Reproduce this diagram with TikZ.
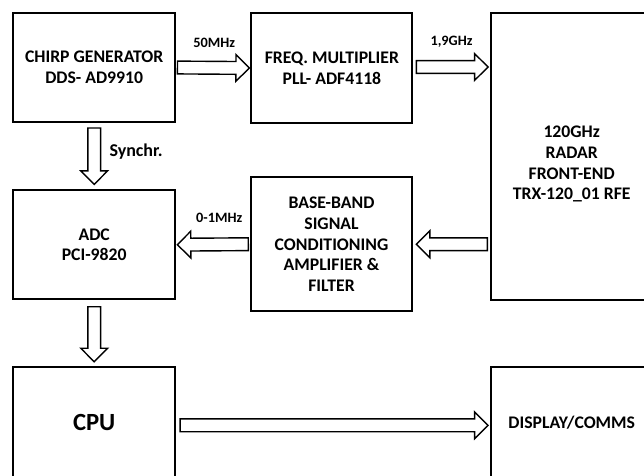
\documentclass[tikz,border=0pt]{standalone}
\usepackage{fontspec}
\setmainfont{Carlito}
\usetikzlibrary{calc}
\newcommand{\sw}{6.4pt}
\newcommand{\hw}{13.4pt}
\newcommand{\hl}{13.5pt}
% hollow block arrow from named coordinate #2 to named coordinate #3
\newcommand{\blockarr}[3][]{%
  \coordinate (ba-m) at ($(#3)!\hl!(#2)$);
  \draw[blockarrow,#1] ($(#2)!\sw!90:(#3)$) -- ($(ba-m)!\sw!90:(#3)$)
    -- ($(ba-m)!\hw!90:(#3)$) -- (#3) -- ($(ba-m)!\hw!-90:(#3)$)
    -- ($(ba-m)!\sw!-90:(#3)$) -- ($(#2)!\sw!-90:(#3)$) -- cycle;}
\begin{document}
\begin{tikzpicture}[x=1pt,y=-1pt,
  box/.style={draw, line width=2pt, outer sep=0pt, inner sep=0pt, align=center,
    font=\bfseries\fontsize{17.7}{20.7}\selectfont},
  lbl/.style={font=\bfseries\fontsize{14.3}{16}\selectfont, inner sep=0pt},
  blockarrow/.style={draw, line width=1.4pt, fill=white, line join=miter}]
\useasboundingbox (0,0) rectangle (644,475);
\clip (0,0) rectangle (644,475);

\node[box, minimum width=161.7pt, minimum height=109pt] (chirp) at (94.2,67.5)
  {CHIRP GENERATOR\\DDS- AD9910};
\node[box, minimum width=161pt, minimum height=109.4pt] (freq) at (331.9,68)
  {FREQ. MULTIPLIER\\PLL- ADF4118};
\node[box, minimum width=160.7pt, minimum height=286.7pt] (radar) at (571.7,156.7) {};
\node[box, draw=none, fill=none] (radartxt) at ([yshift=-7.5pt]radar.center)
  {120GHz\\RADAR\\FRONT-END\\TRX-120\_01 RFE};
\node[box, minimum width=161.7pt, minimum height=109.3pt] (adc) at (94.2,244.7)
  {ADC\\PCI-9820};
\node[box, minimum width=161.6pt, minimum height=133.7pt] (base) at (331.5,244.2)
  {BASE-BAND\\SIGNAL\\CONDITIONING\\AMPLIFIER \&\\FILTER};
\node[box, minimum width=161.7pt, minimum height=110.7pt,
  font=\bfseries\fontsize{24.7}{28}\selectfont] (cpu) at (94.2,422.7) {CPU};
\node[box, minimum width=160.7pt, minimum height=110.7pt] (disp) at (571.7,422.7)
  {DISPLAY/COMMS};

% connector end points
\coordinate (a1s) at ([xshift=2.4pt]chirp.east);
\coordinate (a1e) at ([xshift=-2pt]freq.west);
\coordinate (a2s) at ([xshift=4pt,yshift=1pt]freq.east);
\coordinate (a2e) at ($(radar.west|-a2s)+(-3.3pt,0)$);
\coordinate (a3s) at ($(radar.west|-base.east)+(-4pt,0)$);
\coordinate (a3e) at ([xshift=4pt]base.east);
\coordinate (a4s) at ([xshift=-2.4pt]base.west);
\coordinate (a4e) at ([xshift=2.3pt]adc.east);
\coordinate (a5s) at ([yshift=-6pt]chirp.south);
\coordinate (a5e) at ([yshift=5.7pt]adc.north);
\coordinate (a6s) at ([yshift=-7.4pt]adc.south);
\coordinate (a6e) at ([yshift=5.6pt]cpu.north);
\coordinate (a7s) at ([xshift=5pt,yshift=-2.6pt]cpu.east);
\coordinate (a7e) at ($(disp.west|-a7s)+(-3.3pt,0)$);

\blockarr{a1s}{a1e}
\blockarr{a2s}{a2e}
\blockarr{a3s}{a3e}
\blockarr{a4s}{a4e}
\blockarr{a5s}{a5e}
\blockarr{a6s}{a6e}
\blockarr{a7s}{a7e}

\node[lbl] (l50) at (214.2,43.3) {50MHz};
\node[lbl] (l19) at (451.5,41.7) {1,9GHz};
\node[lbl, anchor=west, font=\bfseries\fontsize{18}{20}\selectfont] (lsy) at (109.3,152) {Synchr.};
\node[lbl] (l01) at (219.2,217.7) {0-1MHz};
\end{tikzpicture}
\end{document}
